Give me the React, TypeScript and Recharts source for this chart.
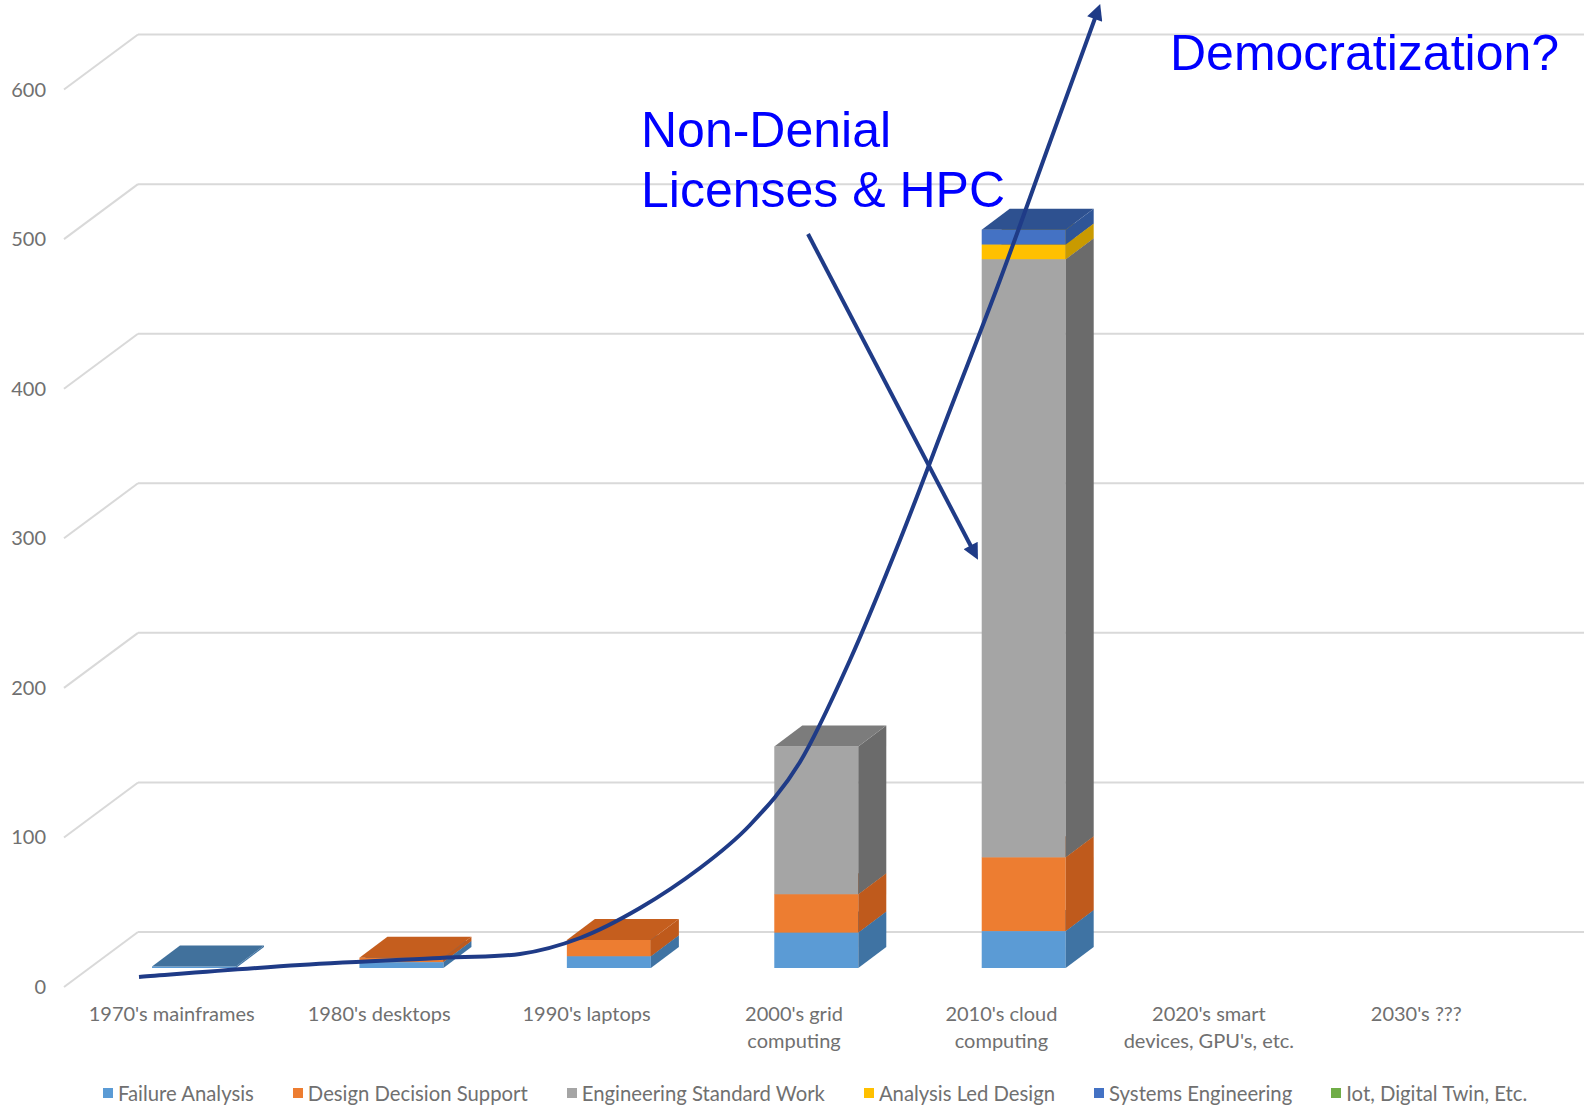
import React from "react";
import { Bar, BarChart, CartesianGrid, Legend, XAxis, YAxis } from "recharts";

// x-axis tick labels, one entry per line
const tickLabels = [
  ["1970's mainframes"],
  ["1980's desktops"],
  ["1990's laptops"],
  ["2000's grid", "computing"],
  ["2010's cloud", "computing"],
  ["2020's smart", "devices, GPU's, etc."],
  ["2030's ???"],
];
const categories = tickLabels.map((l) => l.join(" "));

const failureAnalysis = [1, 4, 8, 24, 25, 0, 0];
const designDecisionSupport = [0, 3, 11, 26, 50, 0, 0];
const engineeringStandardWork = [0, 0, 0, 100, 405, 0, 0];
const analysisLedDesign = [0, 0, 0, 0, 10, 0, 0];
const systemsEngineering = [0, 0, 0, 0, 10, 0, 0];
const iotDigitalTwin = [0, 0, 0, 0, 0, 0, 0];

const yTicks = [0, 100, 200, 300, 400, 500, 600];

const series = [
  { key: "fa", name: "Failure Analysis", values: failureAnalysis, color: "#5B9BD5", side: "#3F73A3", top: "#41719C" },
  { key: "dds", name: "Design Decision Support", values: designDecisionSupport, color: "#ED7D31", side: "#BF5A1C", top: "#C55E1E" },
  { key: "esw", name: "Engineering Standard Work", values: engineeringStandardWork, color: "#A5A5A5", side: "#6B6B6B", top: "#7C7C7C" },
  { key: "ald", name: "Analysis Led Design", values: analysisLedDesign, color: "#FFC000", side: "#C99A00", top: "#BF9000" },
  { key: "se", name: "Systems Engineering", values: systemsEngineering, color: "#4472C4", side: "#2F5597", top: "#2E5190" },
  { key: "iot", name: "Iot, Digital Twin, Etc.", values: iotDigitalTwin, color: "#70AD47", side: "#507E32", top: "#548235" },
];

const data = categories.map((name, i) => {
  const row: Record<string, string | number> = { name };
  series.forEach((s) => (row[s.key] = s.values[i]));
  return row;
});

const W = 1584;
const H = 1106;
const PLOT_BOTTOM = 968;
// 3d depth of the boxes
const DX = 28;
const DY = 21;
// side wall of the floor/back wall
const BACK_LEFT = 138;
const FRONT_LEFT = 64;
const WALL_DROP = 55;
const LABEL_SHIFT = -22;
const GRID = "#D9D9D9";
const TEXT = "#707070";
const FONT = "Lato, 'Open Sans', sans-serif";
const NAVY = "#1F3B87";

// back wall sits a little higher than the bar fronts
const toBack = (y: number) => y - 36 - (PLOT_BOTTOM - y) * 0.0129;

function Box3D(props: any) {
  const { x, y, width, height, fill, side, top } = props;
  if (!height || height <= 0) return null;
  const x2 = x + width;
  const y2 = y + height;
  return (
    <g>
      <rect x={x} y={y} width={width} height={height} fill={fill} />
      <polygon points={`${x2},${y} ${x2 + DX},${y - DY} ${x2 + DX},${y2 - DY} ${x2},${y2}`} fill={side} />
      <polygon points={`${x},${y} ${x + DX},${y - DY} ${x2 + DX},${y - DY} ${x2},${y}`} fill={top} />
    </g>
  );
}

function WallLine(props: any) {
  const back = toBack(props.y1);
  return (
    <g key={props.key}>
      <line x1={FRONT_LEFT} y1={back + WALL_DROP} x2={BACK_LEFT} y2={back} stroke={GRID} strokeWidth={2} />
      <line x1={BACK_LEFT} y1={back} x2={W} y2={back} stroke={GRID} strokeWidth={2} />
    </g>
  );
}

function YTick(props: any) {
  const back = toBack(props.y);
  return (
    <text x={46} y={back + WALL_DROP - 1} textAnchor="end" dominantBaseline="central" fill={TEXT} fontSize={20} fontFamily={FONT}>
      {props.payload.value}
    </text>
  );
}

function XTick(props: any) {
  const lines = tickLabels[categories.indexOf(props.payload.value)] || [];
  return (
    <text x={props.x + LABEL_SHIFT} y={1013} textAnchor="middle" fill={TEXT} fontSize={20} fontFamily={FONT}>
      {lines.map((l, i) => (
        <tspan key={i} x={props.x + LABEL_SHIFT} y={1013 + i * 27} dominantBaseline="central">
          {l}
        </tspan>
      ))}
    </text>
  );
}

function LegendRow() {
  return (
    <div style={{ display: "flex", paddingLeft: 103, fontFamily: FONT, fontSize: 20.3, color: TEXT, whiteSpace: "nowrap" }}>
      {series.map((s) => (
        <div key={s.key} style={{ display: "flex", alignItems: "center", marginRight: 39 }}>
          <span style={{ width: 10, height: 10, background: s.color, marginRight: 5, display: "inline-block" }} />
          {s.name}
        </div>
      ))}
    </div>
  );
}

// hand drawn growth curve on top of the chart
const curvePts = [
  [139, 977], [300, 965], [440, 958], [520, 954], [580, 938], [640, 908], [700, 868],
  [750, 825], [800, 762], [850, 660], [900, 540], [950, 410], [1000, 280], [1050, 142],
  [1098, 10],
];

function smoothPath(pts: number[][]) {
  let d = `M${pts[0][0]},${pts[0][1]}`;
  for (let i = 0; i < pts.length - 1; i++) {
    const p0 = pts[i - 1] || pts[i];
    const p1 = pts[i];
    const p2 = pts[i + 1];
    const p3 = pts[i + 2] || p2;
    const c1x = p1[0] + (p2[0] - p0[0]) / 6;
    const c1y = p1[1] + (p2[1] - p0[1]) / 6;
    const c2x = p2[0] - (p3[0] - p1[0]) / 6;
    const c2y = p2[1] - (p3[1] - p1[1]) / 6;
    d += ` C${c1x},${c1y} ${c2x},${c2y} ${p2[0]},${p2[1]}`;
  }
  return d;
}

function Annotations() {
  const txt = { fill: "#0000FF", fontSize: 50, fontFamily: "'Liberation Sans', Arial, sans-serif" };
  return (
    <svg width={W} height={H} style={{ position: "absolute", left: 0, top: 0, pointerEvents: "none" }}>
      <defs>
        <marker id="arr" viewBox="0 0 10 10" refX="6" refY="5" markerWidth="17" markerHeight="16" markerUnits="userSpaceOnUse" orient="auto">
          <path d="M0,0 L10,5 L0,10 z" fill={NAVY} />
        </marker>
      </defs>
      <path d={smoothPath(curvePts)} fill="none" stroke={NAVY} strokeWidth={4} markerEnd="url(#arr)" />
      <line x1={808} y1={234} x2={975} y2={554} stroke={NAVY} strokeWidth={4} markerEnd="url(#arr)" />
      <text x={1170} y={70} {...txt}>Democratization?</text>
      <text x={641} y={147} {...txt}>Non-Denial</text>
      <text x={641} y={207} {...txt}>Licenses &amp; HPC</text>
    </svg>
  );
}

export default function App() {
  return (
    <div style={{ position: "absolute", left: 0, top: 0, width: W, height: H, background: "#fff", overflow: "hidden" }}>
      <BarChart width={W} height={H} data={data} margin={{ top: 82, right: 42, bottom: 98, left: 0 }} barSize={84}>
        <CartesianGrid vertical={false} horizontal={(p: any) => <WallLine {...p} />} />
        <XAxis dataKey="name" height={40} axisLine={false} tickLine={false} interval={0} tick={<XTick />} />
        <YAxis width={90} domain={[0, 600]} ticks={yTicks} axisLine={false} tickLine={false} interval={0} tick={<YTick />} />
        {series.map((s) => (
          <Bar
            key={s.key}
            dataKey={s.key}
            name={s.name}
            stackId="a"
            fill={s.color}
            isAnimationActive={false}
            shape={(p: any) => <Box3D {...p} fill={s.color} side={s.side} top={s.top} />}
          />
        ))}
        <Legend
          layout="horizontal"
          verticalAlign="middle"
          align="center"
          wrapperStyle={{ left: 0, top: 1081, width: W }}
          content={() => <LegendRow />}
        />
      </BarChart>
      <Annotations />
    </div>
  );
}
